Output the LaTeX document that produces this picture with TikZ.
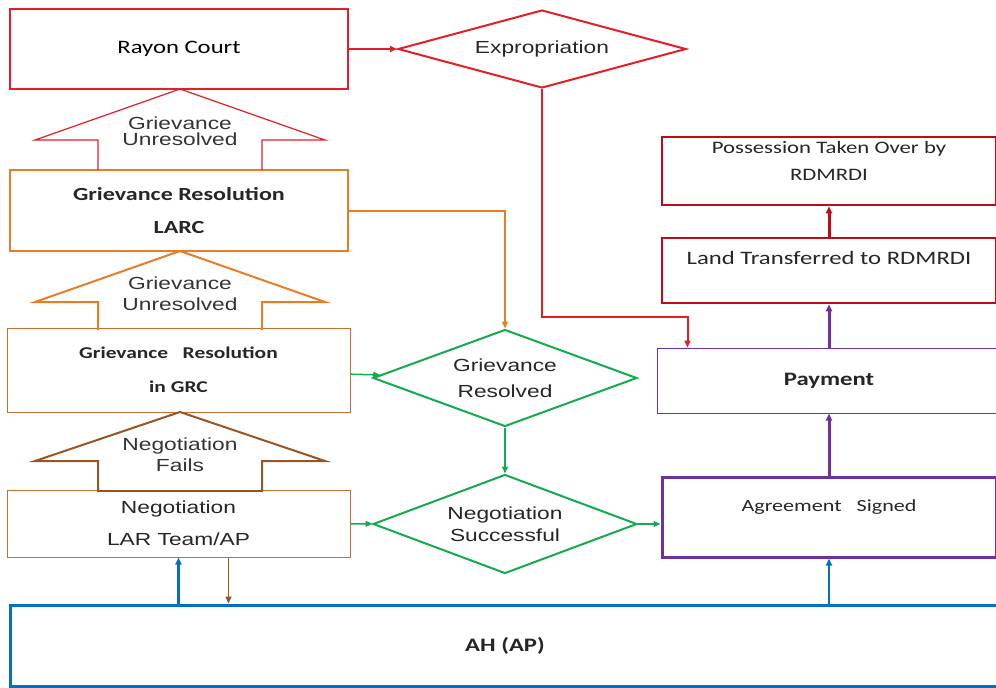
\documentclass[tikz,border=0pt]{standalone}
\usepackage{fontspec}
\setmainfont[FakeStretch=1.3]{Liberation Sans}
\newfontfamily\calfont[FakeStretch=1.3]{Carlito}
\usetikzlibrary{shapes.geometric,arrows.meta,positioning}

\definecolor{courtred}{RGB}{228,30,38}
\definecolor{darkred}{RGB}{192,10,20}
\definecolor{larcorange}{RGB}{232,125,40}
\definecolor{grcbrown}{RGB}{200,112,52}
\definecolor{negbrown}{RGB}{150,85,35}
\definecolor{okgreen}{RGB}{20,170,80}
\definecolor{paypurple}{RGB}{112,48,160}
\definecolor{ahblue}{RGB}{0,112,192}

\tikzset{
  box/.style={draw, rectangle, inner sep=0pt, align=center, font=\calfont\fontsize{17}{20}\selectfont},
  decision/.style={draw, diamond, inner sep=0pt, align=center, font=\fontsize{17.5}{20}\selectfont},
  flow/.style={-{Triangle[length=7pt,width=6pt]}},
  bigtext/.style={align=center, font=\fontsize{17.5}{16}\selectfont}
}

\begin{document}
\begin{tikzpicture}[x=1pt, y=-1pt]
	\clip (0,0) rectangle (996,688);

	% left column
	\node[box, courtred, line width=2pt, minimum width=338pt, minimum height=80pt, text=black, font=\calfont\fontsize{19}{20}\selectfont] (rayon) at (179,49) {Rayon Court};
	\node[box, larcorange, line width=2pt, minimum width=338pt, minimum height=81pt, text=black!85, font=\calfont\bfseries\fontsize{18.5}{20}\selectfont] (larc) at (179,210.5) {Grievance Resolution\\[13pt]LARC};
	\node[box, grcbrown, line width=1pt, minimum width=343pt, minimum height=84pt, text=black!85, font=\calfont\bfseries\fontsize{16.5}{20}\selectfont] (grc) at (178.5,370) {Grievance~~ Resolution\\[14pt]in GRC};
	\node[box, grcbrown, line width=1pt, minimum width=343pt, minimum height=67pt, text=black!85, font=\fontsize{17.5}{20}\selectfont] (neg) at (178.5,523.5) {Negotiation\\[12pt]LAR Team/AP};
	\node[box, ahblue, line width=3pt, minimum width=990pt, minimum height=81pt, text=black!85, font=\calfont\bfseries\fontsize{19}{20}\selectfont] (ah) at (505,645.5) {AH (AP)};

	% decisions
	\node[decision, courtred, line width=2pt, shape aspect=3.7, minimum width=288pt, minimum height=78pt, text=black!85] (expro) at (542,49) {Expropriation};
	\node[decision, okgreen, line width=2pt, shape aspect=2.7, minimum width=264pt, minimum height=97pt, text=black!85] (grres) at (505,378) {Grievance\\[6pt]Resolved};
	\node[decision, okgreen, line width=2pt, shape aspect=2.7, minimum width=264pt, minimum height=99pt, text=black!85] (negsucc) at (505,524) {Negotiation\\[2pt]Successful};

	% right column
	\node[box, darkred, line width=2.5pt, minimum width=334pt, minimum height=68pt, text=black!85, font=\calfont\fontsize{17.5}{20}\selectfont] (poss) at (829,171) {Possession Taken Over by\\[7pt]RDMRDI\\\mbox{}};
	\node[box, darkred, line width=2.5pt, minimum width=334pt, minimum height=65pt, text=black!85, font=\calfont\fontsize{19}{20}\selectfont] (land) at (829,270.5) {Land Transferred to RDMRDI\\[6pt]\mbox{}};
	\node[box, paypurple, line width=1pt, minimum width=344pt, minimum height=65pt, text=black!85, font=\calfont\bfseries\fontsize{19}{20}\selectfont] (pay) at (829,380.5) {Payment};
	\node[box, paypurple, line width=3pt, minimum width=334pt, minimum height=80pt, text=black!85] (agree) at (829,517) {Agreement~~ Signed\\[2pt]\mbox{}};

	% hollow arrows
	\foreach \tip/\neck/\base/\col/\lw in {89/140/170/courtred/1.2, 251/302/330/larcorange/2, 412/461/492/negbrown/2} {
		\draw[\col, line width=\lw pt] (98,\base) -- (98,\neck) -- (35,\neck) -- (180,\tip) -- (325,\neck) -- (262,\neck) -- (262,\base);
	}
	\draw[negbrown, line width=2.5pt] (98,491) -- (262,491);
	\node[bigtext, text=black!80] (unres1) at (180,131) {Grievance\\Unresolved};
	\node[bigtext, text=black!80] (unres2) at (180,294) {Grievance\\[5pt]Unresolved};
	\node[bigtext, text=black!80] (fails) at (180,455) {Negotiation\\[4pt]Fails};

	% connectors
	\draw[flow, courtred, line width=2pt] (rayon) -- (expro);
	\draw[flow, courtred, line width=2pt] (expro.south) -- ++(0,228) -| ([xshift=31pt]pay.north west);
	\draw[flow, larcorange, line width=2pt] (larc.east) -| (grres.north);
	\draw[flow, okgreen, line width=1.5pt] (grc) -- (grres);
	\draw[flow, okgreen, line width=1.5pt] (grres) -- (negsucc);
	\draw[flow, okgreen, line width=1.5pt] (neg) -- (negsucc);
	\draw[flow, okgreen, line width=1.5pt] (negsucc.east) -- (negsucc.east -| agree.west);
	\draw[flow, paypurple, line width=3pt] (agree) -- (pay);
	\draw[flow, paypurple, line width=3pt] (pay) -- (land);
	\draw[flow, darkred, line width=3pt] (land) -- (poss);
	\draw[flow, ahblue, line width=2.5pt] (ah.north -| neg.south) -- (neg.south);
	\coordinate (negout) at ([xshift=50pt]neg.south);
	\draw[flow, negbrown, line width=1.5pt] (negout) -- (ah.north -| negout);
	\draw[flow, ahblue, line width=2.5pt] (ah.north -| agree.south) -- (agree.south);
\end{tikzpicture}
\end{document}
